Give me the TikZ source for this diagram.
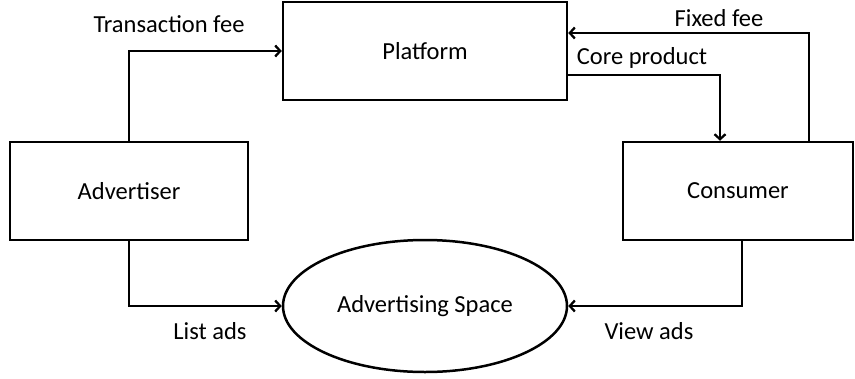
\documentclass[tikz,border=0pt]{standalone}
\usepackage{fontspec}
\setmainfont{Carlito}
\usetikzlibrary{arrows.meta,shapes.geometric}
\begin{document}
\begin{tikzpicture}[x=1pt,y=-1pt,
  every node/.style={font=\fontsize{24.5}{29}\selectfont},
  box/.style={draw,line width=2.5pt,rectangle,inner sep=0pt},
  oval/.style={draw,line width=2.5pt,ellipse,inner sep=0pt,minimum width=284pt,minimum height=132pt},
  lbl/.style={inner sep=0pt},
  flow/.style={line width=2.7pt,-{Straight Barb[length=5pt,width=11pt,line width=2.3pt]}}]
\useasboundingbox (0,0) rectangle (855,378);
\node[box,minimum width=284pt,minimum height=98pt] (plat) at (425,51) {Platform};
\node[box,minimum width=238pt,minimum height=98pt] (adv) at (129,191) {Advertiser};
\node[box,minimum width=230pt,minimum height=98pt] (cons) at (738,191) {Consumer};
\node[oval] (ell) at (425,306) {Advertising Space};
\coordinate (f1) at (809,33);
\coordinate (c1) at (720,75);
\coordinate (v1) at (742,306);
\draw[flow] (adv.north) |- (plat.west);
\draw[flow] (f1 |- cons.north) -- (f1) -- (f1 -| plat.east);
\draw[flow] (c1 -| plat.east) -- (c1) -- (c1 |- cons.north);
\draw[flow] (adv.south) |- (ell.west);
\draw[flow] (v1 |- cons.south) |- (ell.east);
\node[lbl] (ltf) at (169,24) {Transaction fee};
\node[lbl] (lff) at (719,18) {Fixed fee};
\node[lbl] (lcp) at (642,58) {Core product};
\node[lbl] (lla) at (210,331) {List ads};
\node[lbl] (lva) at (649,331) {View ads};
\end{tikzpicture}
\end{document}
